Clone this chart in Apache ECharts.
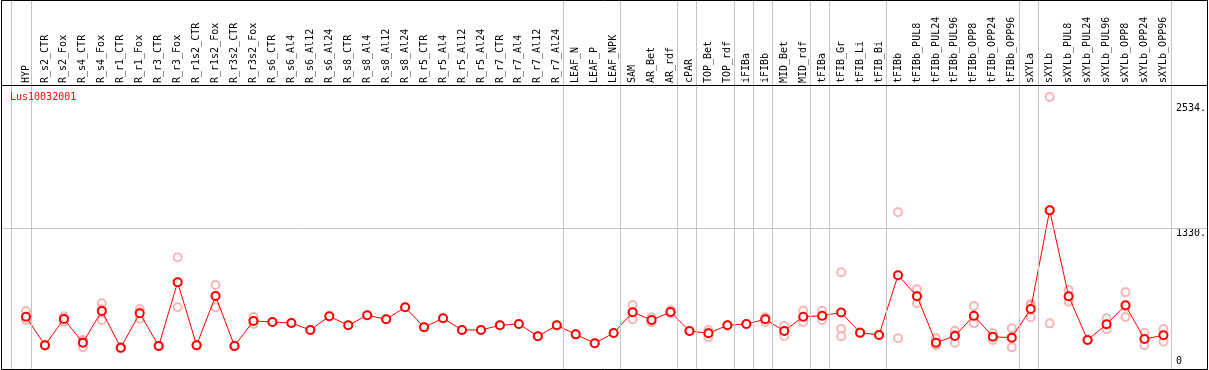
<!DOCTYPE html>
<html>
<head>
<meta charset="utf-8">
<script src="https://cdn.jsdelivr.net/npm/echarts@6/dist/echarts.min.js"></script>
<style>
html,body{margin:0;padding:0;background:#fff;}
#chart{width:1209px;height:370px;}
</style>
</head>
<body>
<div id="chart"></div>
<script>
const categories = ['HYP','R_s2_CTR','R_s2_Fox','R_s4_CTR','R_s4_Fox','R_r1_CTR','R_r1_Fox','R_r3_CTR','R_r3_Fox','R_r1s2_CTR','R_r1s2_Fox','R_r3s2_CTR','R_r3s2_Fox','R_s6_CTR','R_s6_Al4','R_s6_Al12','R_s6_Al24','R_s8_CTR','R_s8_Al4','R_s8_Al12','R_s8_Al24','R_r5_CTR','R_r5_Al4','R_r5_Al12','R_r5_Al24','R_r7_CTR','R_r7_Al4','R_r7_Al12','R_r7_Al24','LEAF_N','LEAF_P','LEAF_NPK','SAM','AR_Bet','AR_rdf','cPAR','TOP_Bet','TOP_rdf','iFIBa','iFIBb','MID_Bet','MID_rdf','tFIBa','tFIB_Gr','tFIB_Li','tFIB_Bi','tFIBb','tFIBb_PUL8','tFIBb_PUL24','tFIBb_PUL96','tFIBb_OPP8','tFIBb_OPP24','tFIBb_OPP96','sXYLa','sXYLb','sXYLb_PUL8','sXYLb_PUL24','sXYLb_PUL96','sXYLb_OPP8','sXYLb_OPP24','sXYLb_OPP96'];

const means = [475,200,453,225,530,176,508,193,807,200,
               675,193,434,424,414,347,479,392,489,450,
               566,373,460,347,347,392,405,286,392,305,
               219,318,518,443,520,337,315,392,405,450,
               337,475,485,515,321,299,874,672,225,289,
               485,282,273,549,1500,672,251,402,585,260,296];

const rep1 = [530,205,479,251,604,182,549,196,1048,204,
              781,197,472,424,414,347,479,392,489,450,
              566,373,460,347,347,392,405,286,392,305,
              219,318,588,469,540,337,347,392,405,469,
              388,533,533,903,326,299,1481,739,267,340,
              578,315,363,598,2592,732,251,460,710,321,357];
const rep2 = [452,199,453,243,546,176,519,193,807,199,
              678,193,434,null,null,null,null,null,null,null,
              null,null,null,null,null,null,null,null,null,null,
              null,null,516,439,512,null,321,null,null,457,
              334,468,479,357,321,null,874,672,205,302,
              466,280,276,580,1498,664,null,392,573,259,297];
const rep3 = [443,195,427,180,440,170,456,190,566,196,
              566,189,405,null,null,null,null,null,null,null,
              null,null,null,null,null,null,null,null,null,null,
              null,null,450,421,508,null,277,null,null,424,
              289,424,443,286,316,null,267,604,202,225,
              411,251,180,469,411,620,null,354,472,200,234];

const yLabelValues = [1330, 2534];
const yZeroLabel = [0];
const hLineValue = 1330;
const groupEnds = ['HYP','R_r7_Al24','LEAF_NPK','AR_rdf','cPAR','TOP_rdf','iFIBa','iFIBb','MID_rdf','tFIBa','tFIB_Bi','tFIBb_OPP96','sXYLa','sXYLb_OPP96'];

const FONT = 'DejaVu Sans Mono';

const repData = [];
[rep1, rep2, rep3].forEach(arr => {
  arr.forEach((v, i) => { if (v !== null) repData.push([i, v]); });
});

const vLines = [{xAxis: -0.8}].concat(groupEnds.map(n => ({xAxis: categories.indexOf(n) + 0.25})));

const chart = echarts.init(document.getElementById('chart'), null, {renderer: 'canvas'});
chart.setOption({
  animation: false,
  backgroundColor: '#fff',
  title: {
    text: 'Lus10032001', left: 10, top: 92, padding: 0,
    textStyle: {color: '#ff0000', fontSize: 10, fontFamily: FONT, fontWeight: 'normal'}
  },
  grid: [
    {left: 16.5, right: 33.5, top: 85, bottom: 1},
    {left: 1, right: 2, top: 0, bottom: 1}
  ],
  xAxis: [
    {
      type: 'category', gridIndex: 0, position: 'top', data: categories, boundaryGap: true,
      axisLine: {show: false}, axisTick: {show: false}, splitLine: {show: false},
      axisLabel: {interval: 0, rotate: 90, margin: 2, color: '#000', fontSize: 10, fontFamily: FONT}
    },
    {
      type: 'value', gridIndex: 1, show: false, min: -25/19, max: 1181/19,
      splitLine: {show: false}
    }
  ],
  yAxis: [
    {
      type: 'value', gridIndex: 0, position: 'right', min: -29, max: 2708,
      axisLine: {show: false}, axisTick: {show: false}, splitLine: {show: false},
      axisLabel: {customValues: yLabelValues, formatter: v => v + '.', verticalAlign: 'top', margin: 3,
                  color: '#000', fontSize: 10, fontFamily: FONT, lineHeight: 10}
    },
    {
      type: 'value', gridIndex: 0, position: 'right', min: -29, max: 2708,
      axisLine: {show: false}, axisTick: {show: false}, splitLine: {show: false},
      axisLabel: {customValues: yZeroLabel, formatter: v => String(v), verticalAlign: 'bottom', margin: 3,
                  color: '#000', fontSize: 10, fontFamily: FONT, lineHeight: 10}
    },
    {
      type: 'value', gridIndex: 1, show: false, min: -28.9, max: 3527.4,
      splitLine: {show: false}
    }
  ],
  series: [
    {
      type: 'line', xAxisIndex: 1, yAxisIndex: 2, data: [], silent: true, z: 1,
      markLine: {
        silent: true, symbol: 'none', label: {show: false}, animation: false,
        lineStyle: {color: '#c4c4c4', type: 'solid', width: 1},
        emphasis: {disabled: true},
        data: vLines.concat([{yAxis: hLineValue}])
      }
    },
    {
      name: 'replicates', type: 'scatter', xAxisIndex: 0, yAxisIndex: 0, data: repData, z: 3,
      symbol: 'emptyCircle', symbolSize: 8, silent: true,
      itemStyle: {color: '#f2a4a4', borderColor: '#f0a0a0', borderWidth: 1.1}
    },
    {
      name: 'mean', type: 'line', xAxisIndex: 0, yAxisIndex: 0, data: means, z: 4,
      symbol: 'emptyCircle', symbolSize: 8, showAllSymbol: true, silent: true,
      lineStyle: {color: '#ff0000', width: 1},
      itemStyle: {color: '#ff0000', borderColor: '#ff0000', borderWidth: 1.3}
    }
  ],
  graphic: [
    {type: 'rect', z: 100, silent: true, shape: {x: 1.5, y: 0.5, width: 1206, height: 369},
     style: {fill: null, stroke: '#000', lineWidth: 1}},
    {type: 'line', z: 100, silent: true, shape: {x1: 1, y1: 85.5, x2: 1208, y2: 85.5},
     style: {stroke: '#000', lineWidth: 1}}
  ]
});
</script>
</body>
</html>
